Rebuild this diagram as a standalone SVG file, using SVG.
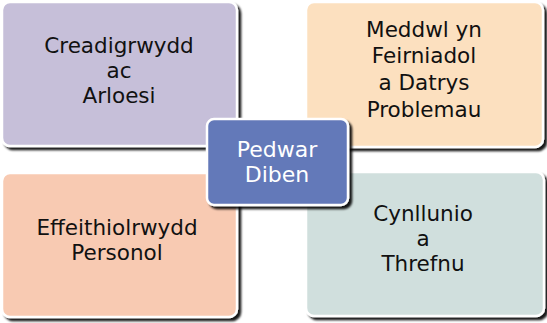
<svg xmlns="http://www.w3.org/2000/svg" width="547" height="323" viewBox="0 0 547 323">
<defs>
<filter id="sh" x="-10%" y="-10%" width="125%" height="125%">
<feDropShadow dx="3" dy="3" stdDeviation="1" flood-color="#000" flood-opacity="0.9"/>
</filter>
<style>
.box{stroke:#fff;stroke-width:2.5;filter:url(#sh)}
.t{font-family:"DejaVu Sans","Noto Sans",sans-serif;font-size:21.5px;fill:#111;text-anchor:middle}
.c{font-family:"DejaVu Sans","Noto Sans",sans-serif;font-size:22px;fill:#fff;text-anchor:middle}
</style>
</defs>
<rect width="547" height="323" fill="#fff"/>
<g id="creadigrwydd">
<rect class="box" x="2" y="2" width="235" height="144" rx="8" fill="#c6bfd9"/>
<text class="t" x="119" y="53">Creadigrwydd</text>
<text class="t" x="119" y="78">ac</text>
<text class="t" x="119" y="103">Arloesi</text>
</g>
<g id="meddwl">
<rect class="box" x="306" y="2" width="237" height="145" rx="8" fill="#fce0bf"/>
<text class="t" x="424" y="37">Meddwl yn</text>
<text class="t" x="424" y="63">Feirniadol</text>
<text class="t" x="424" y="90">a Datrys</text>
<text class="t" x="424" y="117">Problemau</text>
</g>
<g id="effeithiolrwydd">
<rect class="box" x="2" y="173" width="235" height="144" rx="8" fill="#f8cab2"/>
<text class="t" x="117" y="235">Effeithiolrwydd</text>
<text class="t" x="117" y="260">Personol</text>
</g>
<g id="cynllunio">
<rect class="box" x="306" y="172" width="238" height="144" rx="8" fill="#d0dfdd"/>
<text class="t" x="423" y="221">Cynllunio</text>
<text class="t" x="423" y="246">a</text>
<text class="t" x="423" y="271">Threfnu</text>
</g>
<g id="pedwar-diben">
<rect class="box" x="207" y="119" width="141" height="86" rx="7" fill="#6479b9"/>
<text class="c" x="277" y="157">Pedwar</text>
<text class="c" x="277" y="182">Diben</text>
</g>
<g id="connectors"/>
</svg>
